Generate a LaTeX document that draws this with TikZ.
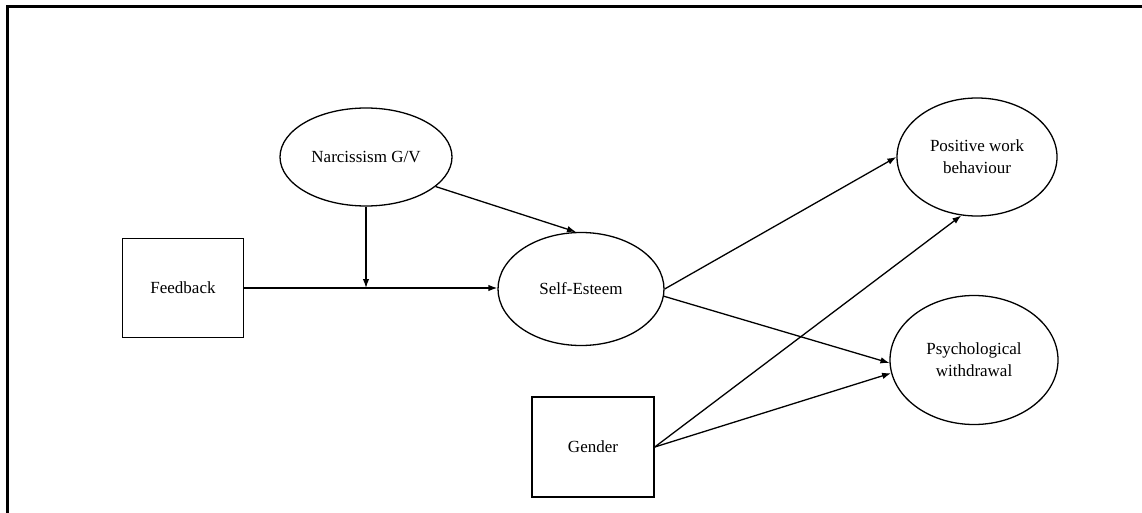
\documentclass[tikz,border=0pt]{standalone}
\usepackage{fontspec}
\setmainfont{Liberation Serif}
\usetikzlibrary{shapes.geometric,arrows.meta}

\begin{document}
\begin{tikzpicture}[x=1pt,y=-1pt]
    \tikzstyle{arrow} = [line width=1.3pt,-{Latex[length=9pt,width=6.5pt]}]
    \tikzstyle{latent} = [draw, ellipse, line width=1.3pt, inner sep=0pt, align=center,
                          font=\fontsize{17}{22}\selectfont]
    \tikzstyle{observed} = [draw, rectangle, line width=1.5pt, inner sep=0pt,
                            font=\fontsize{17}{22}\selectfont]
    \useasboundingbox (0,0) rectangle (1142,513);

    % Frame, only top and left side are visible
    \draw [line width=3pt] (7,513) -- (7,7) -- (1142,7);

    % Left box, predictor
    \node [observed, minimum width=121, minimum height=99] (Feedback) at (183,288) {Feedback};

    % Top ellipse, moderator
    \node [latent, minimum width=172, minimum height=98] (Narcissism) at (366,157) {Narcissism G/V};

    % Middle ellipse, mediator
    \node [latent, minimum width=166, minimum height=113] (SelfEsteem) at (581,289) {Self-Esteem};
    \draw [arrow] (Feedback.east) -- (SelfEsteem.west |- Feedback.east);

      % Moderation arrow hits the Feedback path
      \coordinate (Mod) at (Narcissism.south |- Feedback.east);
      \draw [arrow] (Narcissism.south) -- (Mod);
      \draw [arrow] (Narcissism.-23) -- (SelfEsteem.95);

    % Bottom box, control
    \node [observed, minimum width=122, minimum height=100] (Gender) at (593,447) {Gender};

    % Right ellipses, outcomes
    \node [latent, minimum width=160, minimum height=118] (Positive) at (977,157) {Positive work\\behaviour};
    \draw [arrow] (SelfEsteem.east) -- (Positive.west);
    \draw [arrow] (Gender.east) -- (Positive.-105);

    \node [latent, minimum width=168, minimum height=129] (Withdrawal) at (974,360) {Psychological\\withdrawal};
    \draw [arrow] (SelfEsteem.-5) -- (Withdrawal.182);
    \draw [arrow] (Gender.east) -- (Withdrawal.189);
\end{tikzpicture}
\end{document}
